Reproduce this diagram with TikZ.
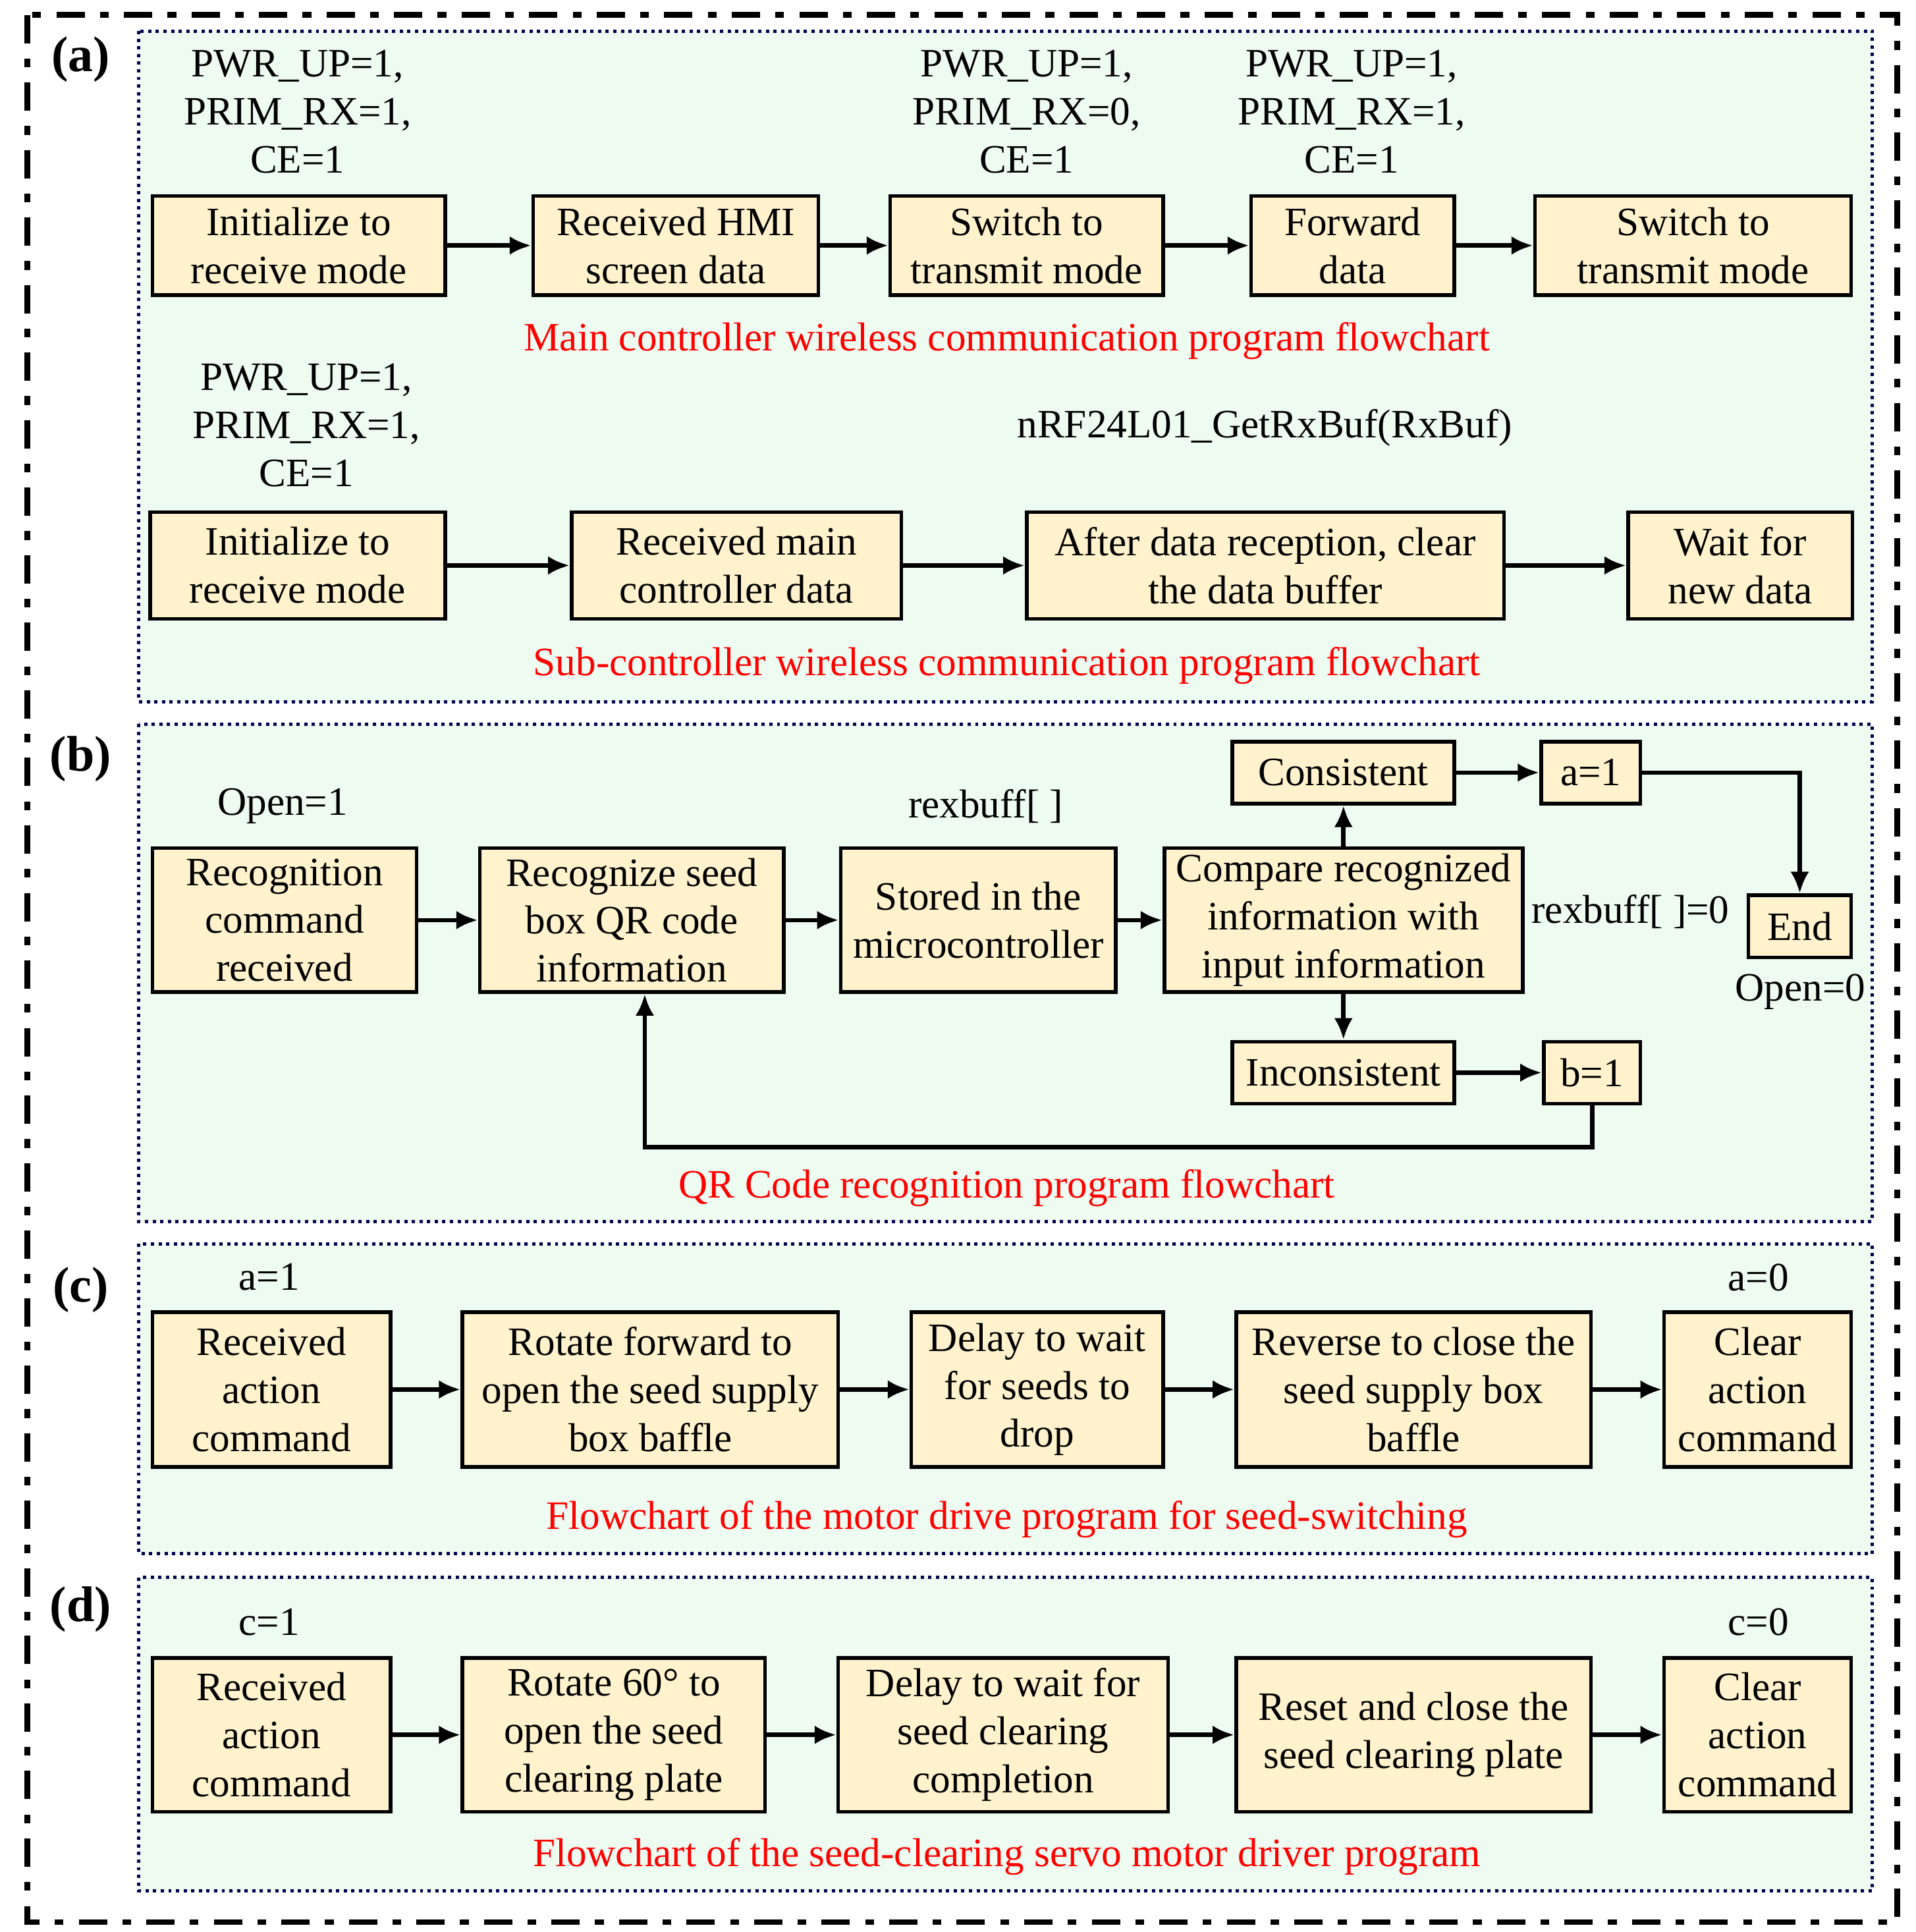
\documentclass[tikz,border=0pt]{standalone}
\usepackage{fontspec}
\setmainfont{Liberation Serif}
\usetikzlibrary{arrows.meta}
\definecolor{boxfill}{HTML}{FFF2CC}
\definecolor{panel}{HTML}{EEFBF1}
\definecolor{cap}{HTML}{FF0000}
\newcommand\bx[6]{\node[box,minimum width={(#4-#2)*0.02cm},minimum height={(#5-#3)*0.02cm}] (#1) at ({(#2+#4)/2},{(#3+#5)/2}) {#6};}
\newcommand\pnl[2]{\draw[pnl] (112,#1) rectangle (1510,#2);}
\begin{document}
\begin{tikzpicture}[x=0.02cm,y=-0.02cm,
 every node/.style={font=\fontsize{18.5}{22}\selectfont},
 box/.style={draw,line width=1.7pt,fill=boxfill,align=center,inner sep=1pt},
 pnl/.style={draw=black!70!blue,line width=1.5pt,dotted,fill=panel},
 arr/.style={line width=2pt,-{Latex[length=3.5mm,width=3mm]}},
 ann/.style={align=center},
 capt/.style={text=cap},
 lab/.style={font=\fontsize{23}{27}\selectfont\bfseries}]
\useasboundingbox (0,0) rectangle (1545,1558);
\fill[white] (0,0) rectangle (1545,1558);
\pnl{25}{566}\pnl{584}{985}\pnl{1003}{1253}\pnl{1272}{1525}
\draw[line width=2.6pt,dash pattern=on 13pt off 7pt on 4pt off 7pt] (22,12) rectangle (1530,1550);
\node[lab] (la) at (65,48) {(a)};
\node[lab] (lb) at (65,612) {(b)};
\node[lab] (lc) at (65,1040) {(c)};
\node[lab] (ld) at (65,1298) {(d)};
% (a) row 1
\bx{A1}{123}{158}{359}{238}{Initialize to\\receive mode}
\bx{A2}{430}{158}{660}{238}{Received HMI\\screen data}
\bx{A3}{718}{158}{938}{238}{Switch to\\transmit mode}
\bx{A4}{1009}{158}{1173}{238}{Forward\\data}
\bx{A5}{1238}{158}{1493}{238}{Switch to\\transmit mode}
\draw[arr] (A1) -- (A2); \draw[arr] (A2) -- (A3); \draw[arr] (A3) -- (A4); \draw[arr] (A4) -- (A5);
\node[ann] (t1) at (240,90) {PWR\_UP=1,\\PRIM\_RX=1,\\CE=1};
\node[ann] (t2) at (828,90) {PWR\_UP=1,\\PRIM\_RX=0,\\CE=1};
\node[ann] (t3) at (1090,90) {PWR\_UP=1,\\PRIM\_RX=1,\\CE=1};
\node[capt] (c1) at (812,275) {Main controller wireless communication program flowchart};
% (a) row 2
\bx{B1}{121}{413}{359}{499}{Initialize to\\receive mode}
\bx{B2}{461}{413}{727}{499}{Received main\\controller data}
\bx{B3}{828}{413}{1213}{499}{After data reception, clear\\the data buffer}
\bx{B4}{1313}{413}{1494}{499}{Wait for\\new data}
\draw[arr] (B1) -- (B2); \draw[arr] (B2) -- (B3); \draw[arr] (B3) -- (B4);
\node[ann] (t4) at (247,343) {PWR\_UP=1,\\PRIM\_RX=1,\\CE=1};
\node (t5) at (1020,345) {nRF24L01\_GetRxBuf(RxBuf)};
\node[capt] (c2) at (812,537) {Sub-controller wireless communication program flowchart};
% (b)
\bx{C1}{123}{684}{336}{800}{Recognition\\command\\received}
\bx{C2}{387}{684}{632}{800}{Recognize seed\\box QR code\\information}
\bx{C3}{678}{684}{900}{800}{Stored in the\\microcontroller}
\bx{C4}{939}{684}{1228}{800}{Compare recognized\\information with\\input information}
\bx{Cs}{994}{598}{1173}{648}{Consistent}
\bx{Ca}{1243}{598}{1323}{648}{a=1}
\bx{Ci}{994}{840}{1173}{890}{Inconsistent}
\bx{Cb}{1245}{840}{1323}{890}{b=1}
\bx{Ce}{1410}{722}{1493}{772}{End}
\draw[arr] (C1) -- (C2); \draw[arr] (C2) -- (C3); \draw[arr] (C3) -- (C4);
\draw[arr] (C4) -- (Cs); \draw[arr] (Cs) -- (Ca);
\draw[arr] (Ca.east) -| (Ce.north);
\draw[arr] (C4) -- (Ci); \draw[arr] (Ci) -- (Cb);
\draw[arr] (Cb.south) |- (520,925) -- (C2.south -| 520,0);
\node (t6) at (228,650) {Open=1};
\node (t7) at (795,650) {rexbuff[ ]};
\node (t8) at (1315,735) {rexbuff[ ]=0};
\node (t9) at (1452,800) {Open=0};
\node[capt] (c3) at (812,958) {QR Code recognition program flowchart};
% (c)
\bx{D1}{123}{1058}{315}{1183}{Received\\action\\command}
\bx{D2}{373}{1058}{676}{1183}{Rotate forward to\\open the seed supply\\box baffle}
\bx{D3}{735}{1058}{938}{1183}{Delay to wait\\for seeds to\\drop}
\bx{D4}{997}{1058}{1283}{1183}{Reverse to close the\\seed supply box\\baffle}
\bx{D5}{1342}{1058}{1493}{1183}{Clear\\action\\command}
\draw[arr] (D1) -- (D2); \draw[arr] (D2) -- (D3); \draw[arr] (D3) -- (D4); \draw[arr] (D4) -- (D5);
\node (t10) at (217,1030) {a=1};
\node (t11) at (1418,1030) {a=0};
\node[capt] (c4) at (812,1225) {Flowchart of the motor drive program for seed-switching};
% (d)
\bx{E1}{123}{1337}{315}{1461}{Received\\action\\command}
\bx{E2}{373}{1337}{617}{1461}{Rotate 60° to\\open the seed\\clearing plate}
\bx{E3}{676}{1337}{942}{1461}{Delay to wait for\\seed clearing\\completion}
\bx{E4}{997}{1337}{1283}{1461}{Reset and close the\\seed clearing plate}
\bx{E5}{1342}{1337}{1493}{1461}{Clear\\action\\command}
\draw[arr] (E1) -- (E2); \draw[arr] (E2) -- (E3); \draw[arr] (E3) -- (E4); \draw[arr] (E4) -- (E5);
\node (t12) at (217,1308) {c=1};
\node (t13) at (1418,1308) {c=0};
\node[capt] (c5) at (812,1497) {Flowchart of the seed-clearing servo motor driver program};
\end{tikzpicture}
\end{document}
